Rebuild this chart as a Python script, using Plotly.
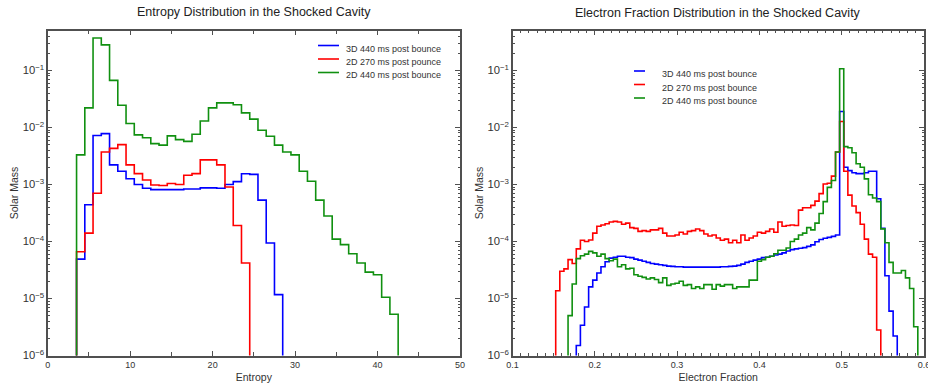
import numpy as np
import plotly.graph_objects as go

# ---------------- Left panel: entropy histograms (bins of width 1, centred on integers)
entropy_bin_width = 1.0
entropy_first_center = {"3d440": 4, "2d270": 4, "2d440": 4}
entropy_3d_440 = [4.9e-5, 4.4e-4, 7.2e-3, 7.8e-3, 2.2e-3, 1.7e-3, 1.26e-3, 1.0e-3, 8.6e-4, 8.1e-4,
                  8.1e-4, 8.1e-4, 8.1e-4, 8.3e-4, 8.3e-4, 8.7e-4, 8.7e-4, 8.6e-4, 1.0e-3, 1.12e-3,
                  1.54e-3, 1.5e-3, 5.3e-4, 9.4e-5, 1.17e-5]
entropy_2d_270 = [6.6e-5, 1.4e-4, 7.0e-4, 3.7e-3, 4.3e-3, 5.0e-3, 2.2e-3, 1.55e-3, 1.2e-3, 9.8e-4,
                  9.6e-4, 1.04e-3, 1.0e-3, 1.45e-3, 1.55e-3, 2.7e-3, 2.7e-3, 2.2e-3, 9.0e-4, 1.9e-4,
                  4.2e-5]
entropy_2d_440 = [3.3e-3, 2.2e-2, 0.37, 0.28, 6.7e-2, 2.45e-2, 1.17e-2, 7.4e-3, 6.6e-3, 5.2e-3,
                  4.9e-3, 7.1e-3, 6.1e-3, 5.7e-3, 7.6e-3, 1.3e-2, 2.2e-2, 2.7e-2, 2.7e-2, 2.5e-2,
                  1.8e-2, 1.4e-2, 8.9e-3, 7.0e-3, 4.9e-3, 3.7e-3, 3.3e-3, 1.7e-3, 1.14e-3, 5.3e-4,
                  2.8e-4, 1.1e-4, 8.8e-5, 6.1e-5, 4.2e-5, 2.9e-5, 2.6e-5, 1.05e-5, 5.3e-6]

# ---------------- Right panel: electron fraction histograms (bins of width 0.005)
ye_bin_width = 0.005
ye_first_center = {"3d440": 0.18, "2d270": 0.155, "2d440": 0.17}
ye_3d_440 = [1.5e-6, 3.4e-6, 7.1e-6, 1.6e-5, 2.1e-5, 2.8e-5, 3.6e-5, 4.4e-5, 5.1e-5, 5.3e-5,
             5.5e-5, 5.5e-5, 5.3e-5, 5.2e-5, 4.9e-5, 4.7e-5, 4.5e-5, 4.3e-5, 4.1e-5, 4.0e-5,
             3.9e-5, 3.8e-5, 3.7e-5, 3.65e-5, 3.6e-5, 3.6e-5, 3.55e-5, 3.55e-5, 3.55e-5, 3.55e-5,
             3.55e-5, 3.55e-5, 3.55e-5, 3.55e-5, 3.55e-5, 3.6e-5, 3.6e-5, 3.65e-5, 3.7e-5, 3.8e-5,
             4.0e-5, 4.3e-5, 4.5e-5, 4.7e-5, 4.9e-5, 5.2e-5, 5.3e-5, 5.5e-5, 5.8e-5, 6.0e-5,
             6.3e-5, 6.8e-5, 7.2e-5, 7.4e-5, 7.6e-5, 7.8e-5, 8.2e-5, 8.7e-5, 9.9e-5, 1.08e-4,
             1.14e-4, 1.18e-4, 1.23e-4, 1.3e-4,
             1.9e-2,
             2.0e-3, 1.75e-3, 1.6e-3, 1.55e-3, 1.55e-3, 1.6e-3, 1.7e-3, 1.7e-3, 5.6e-4, 1.7e-4,
             2.5e-5, 6.0e-6, 2.2e-6]
ye_2d_270 = [1.37e-5, 3.0e-5, 3.3e-5, 4.8e-5, 4.1e-5, 7.4e-5, 1.05e-4, 1.0e-4, 1.06e-4, 1.4e-4,
             1.85e-4, 1.95e-4, 2.05e-4, 2.2e-4, 2.25e-4, 2.2e-4, 2.0e-4, 2.1e-4, 1.75e-4, 1.7e-4,
             1.5e-4, 1.55e-4, 1.5e-4, 1.6e-4, 1.6e-4, 1.7e-4, 1.4e-4, 1.25e-4, 1.25e-4, 1.3e-4,
             1.45e-4, 1.35e-4, 1.5e-4, 1.55e-4, 1.65e-4, 1.55e-4, 1.35e-4, 1.25e-4, 1.3e-4, 1.15e-4,
             1.05e-4, 1.1e-4, 9.5e-5, 1.05e-4, 9.5e-5, 1.3e-4, 1.05e-4, 1.15e-4, 1.25e-4, 1.45e-4,
             1.4e-4, 1.5e-4, 1.65e-4, 1.45e-4, 2.2e-4, 1.85e-4, 1.9e-4, 1.95e-4, 1.9e-4, 3.55e-4,
             3.9e-4, 3.9e-4, 4.3e-4, 5.1e-4, 6.9e-4, 1.02e-3, 1.05e-3, 1.4e-3, 3.7e-3,
             1.27e-2,
             1.7e-3, 6.5e-4, 4.2e-4, 3.2e-4, 2.0e-4, 1.1e-4, 6.0e-5, 5.3e-5, 2.8e-6]
ye_2d_440 = [5.0e-6, 1.8e-5, 5.0e-5, 5.6e-5, 6.0e-5, 6.7e-5, 6.3e-5, 5.5e-5, 6.0e-5, 5.0e-5,
             4.6e-5, 4.9e-5, 3.6e-5, 3.9e-5, 3.3e-5, 3.4e-5, 2.6e-5, 2.45e-5, 2.35e-5, 2.2e-5,
             2.3e-5, 2.15e-5, 1.9e-5, 2.3e-5, 1.7e-5, 1.8e-5, 1.85e-5, 2.0e-5, 1.7e-5, 1.75e-5,
             1.5e-5, 1.6e-5, 1.5e-5, 1.75e-5, 1.75e-5, 1.45e-5, 1.75e-5, 1.65e-5, 1.75e-5, 1.75e-5,
             1.5e-5, 1.6e-5, 1.6e-5, 1.6e-5, 2.1e-5, 2.1e-5,
             4.5e-5, 4.8e-5, 5.3e-5, 5.5e-5, 6.1e-5, 7.0e-5, 7.0e-5, 7.7e-5, 1.0e-4, 1.1e-4,
             1.3e-4, 1.4e-4, 1.75e-4, 1.6e-4, 2.1e-4,
             3.1e-4, 5.0e-4, 8.9e-4, 1.17e-3, 3.7e-3,
             0.107,
             4.6e-3, 4.4e-3, 3.6e-3, 2.3e-3, 2.0e-3, 1.25e-3, 6.6e-4, 5.8e-4, 5.0e-4, 1.66e-4,
             9.5e-5, 4.3e-5, 2.8e-5, 2.8e-5, 3.1e-5, 2.3e-5, 1.5e-5, 3.2e-6]

legend_left = ["3D 440 ms post bounce", "2D 270 ms post pounce", "2D 440 ms post bounce"]
legend_right = ["3D 440 ms post bounce", "2D 270 ms post bounce", "2D 440 ms post bounce"]
colors = ["#0000ff", "#ff0000", "#109010"]
EMPTY = 1e-9  # empty bins (below plotted range)

W, H = 928, 388


def px(x):
    return x / W


def py(y):
    return 1 - y / H


def step_xy(first_center, width, values):
    n = len(values)
    edges = first_center - width / 2 + width * np.arange(n + 1)
    x = [edges[0] - width] + list(edges)
    y = [EMPTY] + list(values) + [EMPTY]
    return x, y


FONT = "Liberation Sans, Arial, Helvetica, sans-serif"
fig = go.Figure()

left_series = [("3d440", entropy_3d_440), ("2d270", entropy_2d_270), ("2d440", entropy_2d_440)]
for i, (key, vals) in enumerate(left_series):
    x, y = step_xy(entropy_first_center[key], entropy_bin_width, vals)
    fig.add_trace(go.Scatter(x=x, y=y, mode="lines", line=dict(color=colors[i], width=1.6, shape="hv"),
                             name=legend_left[i], xaxis="x", yaxis="y", showlegend=False))

right_series = [("3d440", ye_3d_440), ("2d270", ye_2d_270), ("2d440", ye_2d_440)]
for i, (key, vals) in enumerate(right_series):
    x, y = step_xy(ye_first_center[key], ye_bin_width, vals)
    fig.add_trace(go.Scatter(x=x, y=y, mode="lines", line=dict(color=colors[i], width=1.6, shape="hv"),
                             name=legend_right[i], xaxis="x2", yaxis="y2", showlegend=False))

axis_common = dict(showline=True, linecolor="#505050", linewidth=1.5, mirror="allticks",
                   ticks="inside", ticklen=5, tickwidth=1, tickcolor="#505050",
                   showgrid=False, zeroline=False, automargin=False, ticklabeloverflow="allow",
                   tickfont=dict(family=FONT, size=9, color="#333333"))
xdom_l = [px(47.7), px(460)]
xdom_r = [px(512.5), px(924)]
ydom = [py(355.5), py(30.5)]
title_font = dict(size=10.5, family=FONT, color="#333333")

fig.update_layout(
    width=W, height=H,
    margin=dict(l=0, r=0, t=0, b=0, autoexpand=False),
    paper_bgcolor="white", plot_bgcolor="white",
    font=dict(family=FONT, color="#333333"),
    showlegend=False,
    xaxis=dict(domain=xdom_l, range=[0, 50], dtick=10, anchor="y",
               minor=dict(ticks="inside", dtick=5, ticklen=4, tickcolor="#505050"),
               title=dict(text="Entropy", font=title_font, standoff=5), **axis_common),
    yaxis=dict(domain=ydom, type="log", range=[-6, -0.3], dtick=1, exponentformat="power",
               anchor="x", minor=dict(ticks="inside", dtick="D1", ticklen=2.5, tickcolor="#505050"),
               title=dict(text="Solar Mass", font=title_font, standoff=2), **axis_common),
    xaxis2=dict(domain=xdom_r, range=[0.1, 0.60001], tick0=0.1, dtick=0.1, anchor="y2",
                minor=dict(ticks="inside", dtick=0.01, ticklen=2.5, tickcolor="#505050"),
                title=dict(text="Electron Fraction", font=title_font, standoff=5), **axis_common),
    yaxis2=dict(domain=ydom, type="log", range=[-6, -0.3], dtick=1, exponentformat="power",
                anchor="x2", minor=dict(ticks="inside", dtick="D1", ticklen=2.5, tickcolor="#505050"),
                title=dict(text="Solar Mass", font=title_font, standoff=2), **axis_common),
)

annotations = [
    dict(text="Entropy Distribution in the Shocked Cavity", x=px(254), y=py(12),
         xanchor="center", yanchor="middle", font=dict(size=12.5, color="#222222", family=FONT)),
    dict(text="Electron Fraction Distribution in the Shocked Cavity", x=px(718), y=py(13),
         xanchor="center", yanchor="middle", font=dict(size=12.5, color="#222222", family=FONT)),
]
shapes = []
# manual legends (sample line + label)
legend_specs = [
    (legend_left, 318, 339, 344, [45.5, 59, 72.5], [48.5, 62, 75.5]),
    (legend_right, 634, 645, 660, [71, 84.5, 98], [74, 88, 101]),
]
for labels, lx0, lx1, tx, line_ys, text_ys in legend_specs:
    for i, lab in enumerate(labels):
        shapes.append(dict(type="line", xref="paper", yref="paper", x0=px(lx0), x1=px(lx1),
                           y0=py(line_ys[i]), y1=py(line_ys[i]), line=dict(color=colors[i], width=1.6)))
        annotations.append(dict(text=lab, x=px(tx), y=py(text_ys[i]), xanchor="left", yanchor="middle",
                                font=dict(size=9, color="#333333", family=FONT)))
for a in annotations:
    a.update(xref="paper", yref="paper", showarrow=False)
fig.update_layout(annotations=annotations, shapes=shapes)

fig.write_html("out.html")
